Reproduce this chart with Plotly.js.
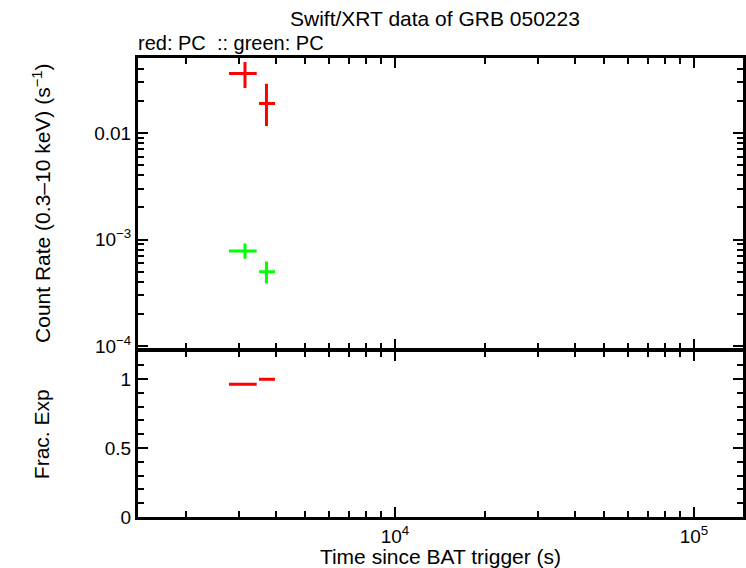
<!DOCTYPE html>
<html>
<head>
<meta charset="utf-8">
<script src="https://cdn.plot.ly/plotly-3.0.1.min.js"></script>
<style>html,body{margin:0;padding:0;background:#fff;}#chart{width:746px;height:568px;}</style>
</head>
<body>
<div id="chart"></div>
<script>
// Time bins (s)
var timeCenters = [3150, 3717];
var timeMinus = [365, 207];
var timePlus = [298, 253];
// Red: PC count rate (s^-1)
var redRate = [0.0361, 0.01896];
var redRatePlus = [0.0102, 0.0101];
var redRateMinus = [0.0096, 0.0073];
// Green: PC count rate (s^-1)
var greenRate = [0.000778, 0.000499];
var greenRatePlus = [0.000140, 0.000123];
var greenRateMinus = [0.000118, 0.000113];
// Fractional exposure
var fracExp = [0.962, 0.998];

var yTopTickVals = [0.01, 0.001, 0.0001];
var yTopTickText = ["0.01", "10<sup>\u22123</sup>", "10<sup>\u22124</sup>"];
var xTickVals = [10000, 100000];
var xTickText = ["10<sup>4</sup>", "10<sup>5</sup>"];
var yBotTickVals = [0, 0.5, 1];
var yBotTickText = ["0", "0.5", "1"];

function logMinor(decades) {
  var out = [];
  decades.forEach(function (d) { for (var k = 2; k <= 9; k++) out.push(k * d); });
  return out;
}
var xMinor = logMinor([1000, 10000, 100000]);
var yMinor = logMinor([0.00001, 0.0001, 0.001, 0.01, 0.1]);
var yBotMinor = [0.1, 0.2, 0.3, 0.4, 0.6, 0.7, 0.8, 0.9, 1.1];

var RED = '#ff0000', GREEN = '#00ff00';
function errTrace(y, yp, ym, color, xa, ya) {
  var t = {
    x: timeCenters, y: y, xaxis: xa, yaxis: ya,
    type: 'scatter', mode: 'markers',
    marker: {size: 1, color: color, opacity: 0},
    error_x: {type: 'data', symmetric: false, array: timePlus, arrayminus: timeMinus,
              color: color, thickness: 3, width: 0},
    hoverinfo: 'skip', showlegend: false
  };
  if (yp) {
    t.error_y = {type: 'data', symmetric: false, array: yp, arrayminus: ym,
                 color: color, thickness: 3, width: 0};
  }
  return t;
}

var data = [
  errTrace(redRate, redRatePlus, redRateMinus, RED, 'x2', 'y2'),
  errTrace(greenRate, greenRatePlus, greenRateMinus, GREEN, 'x2', 'y2'),
  errTrace(fracExp, null, null, RED, 'x', 'y')
];

var FONT = 'Liberation Sans, Arial, sans-serif';
var axisCommon = {
  showline: true, linecolor: '#000', linewidth: 3, mirror: 'allticks',
  ticks: 'inside', ticklen: 10, tickwidth: 2, tickcolor: '#000',
  showgrid: false, zeroline: false,
  tickfont: {family: FONT, size: 19, color: '#000'}
};
function merge(a, b) { var o = {}; for (var k in a) o[k] = a[k]; for (var k2 in b) o[k2] = b[k2]; return o; }
var minorCfg = function (vals) {
  return {tickmode: 'array', tickvals: vals, ticks: 'inside', ticklen: 6, tickwidth: 2, tickcolor: '#000'};
};

var layout = {
  width: 746, height: 568,
  margin: {l: 138, r: 3, t: 58, b: 51},
  paper_bgcolor: '#fff', plot_bgcolor: '#fff',
  font: {family: FONT, color: '#000'},
  title: {text: 'Swift/XRT data of GRB 050223', font: {family: FONT, size: 21, color: '#000'},
          x: 0.583, xanchor: 'center', y: 0.968, yanchor: 'middle'},
  annotations: [{text: 'red: PC  :: green: PC', xref: 'paper', yref: 'paper', x: 0, y: 1,
                 xanchor: 'left', yanchor: 'bottom', yshift: 2, xshift: -2, showarrow: false,
                 font: {family: FONT, size: 20, color: '#000'}}],
  xaxis: merge(axisCommon, {
    type: 'log', range: [3.1405, 5.164], anchor: 'y', domain: [0, 1],
    tickmode: 'array', tickvals: xTickVals, ticktext: xTickText,
    minor: minorCfg(xMinor),
    title: {text: 'Time since BAT trigger (s)', font: {family: FONT, size: 21, color: '#000'}, standoff: 4}
  }),
  xaxis2: merge(axisCommon, {
    type: 'log', range: [3.1405, 5.164], anchor: 'y2', matches: 'x', domain: [0, 1],
    tickmode: 'array', tickvals: xTickVals, ticktext: xTickText, showticklabels: false,
    minor: minorCfg(xMinor)
  }),
  yaxis: merge(axisCommon, {
    range: [0, 1.1993], domain: [0, 0.36057], anchor: 'x',
    tickmode: 'array', tickvals: yBotTickVals, ticktext: yBotTickText,
    minor: minorCfg(yBotMinor),
    title: {text: 'Frac. Exp', font: {family: FONT, size: 21, color: '#000'}, standoff: 50}
  }),
  yaxis2: merge(axisCommon, {
    type: 'log', range: [-4.0235, -1.2958], domain: [0.36710, 1], anchor: 'x2',
    tickmode: 'array', tickvals: yTopTickVals, ticktext: yTopTickText,
    minor: minorCfg(yMinor),
    title: {text: 'Count Rate (0.3\u201310 keV) (s<sup>\u22121</sup>)', font: {family: FONT, size: 21, color: '#000'}, standoff: 38}
  })
};

Plotly.newPlot('chart', data, layout, {displayModeBar: false, staticPlot: true});
</script>
</body>
</html>
